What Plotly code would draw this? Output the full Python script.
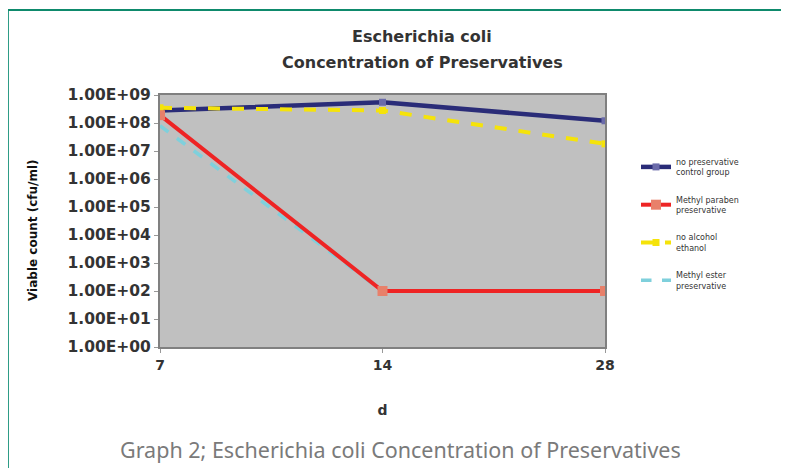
import plotly.graph_objects as go

days = ["7", "14", "28"]
series_names = [
    "no preservative<br>control group",
    "Methyl paraben<br>preservative",
    "no alcohol<br>ethanol",
    "Methyl ester<br>preservative",
]
navy_vals = [2.8e8, 5.5e8, 1.2e8]
red_vals = [1.9e8, 1.0e2, 1.0e2]
yellow_vals = [3.5e8, 2.8e8, 1.8e7]
cyan_vals = [8.0e7, 1.0e2, 1.0e2]
ytick_vals = [1e0, 1e1, 1e2, 1e3, 1e4, 1e5, 1e6, 1e7, 1e8, 1e9]
ytick_text = ["1.00E+00", "1.00E+01", "1.00E+02", "1.00E+03", "1.00E+04",
              "1.00E+05", "1.00E+06", "1.00E+07", "1.00E+08", "1.00E+09"]

xpos = list(range(len(days)))

OFF = 8  # page body margin
W, H = 789 - OFF, 468 - OFF
# plot area in target pixels
L, R, T, B = 160, 605, 95, 347
def px(x):
    return (x - L) / (R - L)
def py(y):
    return (B - y) / (B - T)

fig = go.Figure()
fig.add_trace(go.Scatter(x=xpos, y=navy_vals, name=series_names[0], mode="lines+markers",
                         legendgroup="a", legendrank=1,
                         line=dict(color="#2A2C78", width=4.5),
                         marker=dict(symbol="square", size=7, color="#6B6BAA")))
fig.add_trace(go.Scatter(x=xpos, y=yellow_vals, name=series_names[2], mode="lines+markers",
                         legendgroup="c", legendrank=3,
                         line=dict(color="#F5E30A", width=4, dash="dash"),
                         marker=dict(symbol="square", size=7, color="#F5E30A")))
fig.add_trace(go.Scatter(x=xpos, y=cyan_vals, name=series_names[3], mode="lines",
                         legendgroup="d", legendrank=4,
                         line=dict(color="#7FD0DC", width=3.5, dash="dash")))
fig.add_trace(go.Scatter(x=xpos, y=red_vals, name=series_names[1], mode="lines+markers",
                         legendgroup="b", legendrank=2,
                         line=dict(color="#EE2424", width=4),
                         marker=dict(symbol="square", size=10, color="#E8806A")))

fig.update_layout(
    width=W, height=H,
    margin=dict(l=L - OFF, r=W - (R - OFF), t=T - OFF, b=H - (B - OFF)),
    paper_bgcolor="white",
    plot_bgcolor="#C0C0C0",
    showlegend=True,
    legend=dict(x=px(636), y=py(150), xanchor="left", yanchor="top",
                font=dict(family="DejaVu Sans", size=8, color="#333333"),
                tracegroupgap=14, traceorder="grouped",
                bgcolor="rgba(0,0,0,0)"),
    font=dict(family="DejaVu Sans", color="#222222"),
)

fig.update_xaxes(range=[0, 2], tickvals=xpos, ticktext=days,
                 tickfont=dict(size=14, color="#333333", family="DejaVu Sans", weight="bold"),
                 showgrid=False, zeroline=False, showline=True, linecolor="#808080",
                 linewidth=2, mirror=True, ticks="outside", ticklen=4, tickcolor="#999999",
                 title=dict(text="d", font=dict(size=14, color="#333333", weight="bold"), standoff=33))
fig.update_yaxes(type="log", range=[0, 9], tickvals=ytick_vals, ticktext=ytick_text,
                 tickfont=dict(size=15.5, color="#333333", family="DejaVu Sans", weight="bold"),
                 showgrid=False, zeroline=False, showline=True, linecolor="#808080",
                 linewidth=2, mirror=True, ticks="outside", ticklen=4, tickcolor="#999999")

# y-axis title
fig.add_annotation(x=px(33), y=py(230), xref="paper", yref="paper",
                   text="Viable count (cfu/ml)", showarrow=False, textangle=-90,
                   font=dict(size=12, color="#111111", family="DejaVu Sans", weight="bold"),
                   xanchor="center", yanchor="middle")
# chart title
fig.add_annotation(x=px(422), y=py(37), xref="paper", yref="paper",
                   text="Escherichia coli", showarrow=False,
                   font=dict(size=16, color="#333333", family="DejaVu Sans", weight="bold"),
                   xanchor="center", yanchor="middle")
fig.add_annotation(x=px(422), y=py(62), xref="paper", yref="paper",
                   text="Concentration of Preservatives", showarrow=False,
                   font=dict(size=16, color="#333333", family="DejaVu Sans", weight="bold"),
                   xanchor="center", yanchor="middle")
# caption
fig.add_annotation(x=px(400), y=py(450), xref="paper", yref="paper",
                   text="Graph 2; Escherichia coli Concentration of Preservatives",
                   showarrow=False, font=dict(size=21.5, color="#7A7A7A", family="Noto Sans"),
                   xanchor="center", yanchor="middle")

# teal frame (left and top)
fig.add_shape(type="line", xref="paper", yref="paper", x0=px(8), x1=px(8), y0=py(10), y1=py(480),
              line=dict(color="#2E9C86", width=2))
fig.add_shape(type="line", xref="paper", yref="paper", x0=px(7), x1=px(800), y0=py(10), y1=py(10),
              line=dict(color="#0E8A6C", width=2))

fig.write_html("out.html")
